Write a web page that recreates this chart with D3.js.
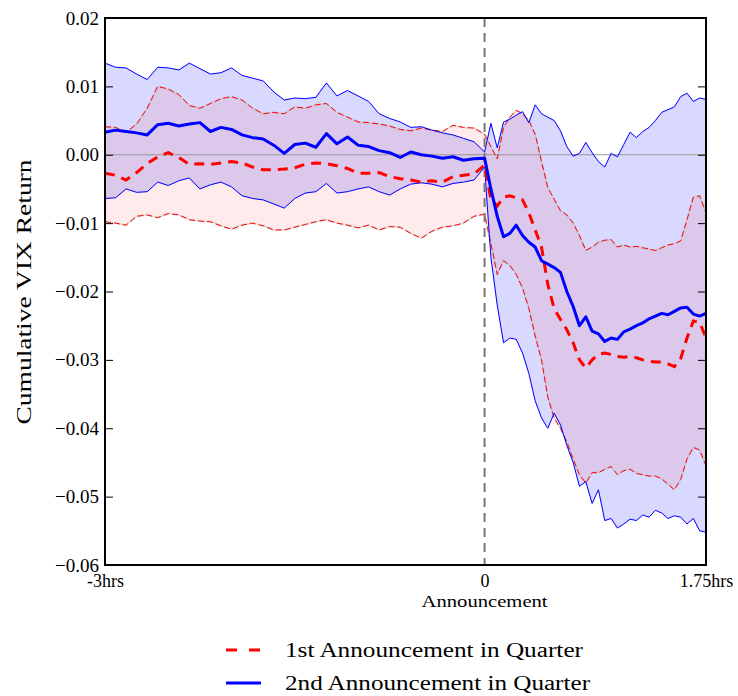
<!DOCTYPE html>
<html>
<head>
<meta charset="utf-8">
<script src="https://cdn.jsdelivr.net/npm/d3@7"></script>
<style>
  body { margin: 0; background: #fff; }
  svg text { font-family: "Liberation Serif", "DejaVu Serif", serif; fill: #000; }
</style>
</head>
<body>
<div id="chart"></div>
<script>
// minutes relative to the announcement
var minutes = [-180,-175,-170,-165,-160,-155,-150,-145,-140,-135,-130,-125,-120,-115,-110,-105,-100,-95,-90,-85,-80,-75,-70,-65,-60,-55,-50,-45,-40,-35,-30,-25,-20,-15,-10,-5,0,
  3,6,9,12,15,18,21,24,27,30,33,36,39,42,45,48,51,54,57,60,63,66,69,72,75,78,81,84,87,90,93,96,99,102,105];

// 1st announcement in quarter (red)
var redMean = [-0.0027,-0.0030,-0.0037,-0.0026,-0.0013,-0.0003,0.0003,-0.0004,-0.0014,-0.0013,-0.0014,-0.0012,-0.0010,-0.0012,-0.0018,-0.0022,-0.0022,-0.0021,-0.0019,-0.0014,-0.0012,-0.0013,-0.0016,-0.0020,-0.0027,-0.0027,-0.0026,-0.0032,-0.0035,-0.0037,-0.0040,-0.0038,-0.0040,-0.0032,-0.0030,-0.0028,-0.0015,
  -0.0065,-0.0075,-0.0062,-0.0060,-0.0063,-0.0066,-0.0085,-0.0110,-0.0135,-0.0190,-0.0225,-0.0241,-0.0256,-0.0275,-0.0300,-0.0312,-0.0300,-0.0292,-0.0290,-0.0292,-0.0295,-0.0296,-0.0295,-0.0297,-0.0300,-0.0302,-0.0303,-0.0303,-0.0306,-0.0310,-0.0298,-0.0268,-0.0243,-0.0245,-0.0268];
var redUpper = [0.0041,0.0040,0.0033,0.0045,0.0068,0.0100,0.0096,0.0088,0.0072,0.0068,0.0075,0.0082,0.0085,0.0080,0.0068,0.0060,0.0062,0.0060,0.0070,0.0068,0.0073,0.0075,0.0062,0.0055,0.0048,0.0047,0.0045,0.0042,0.0037,0.0035,0.0039,0.0036,0.0034,0.0043,0.0040,0.0039,0.0030,
  0.0012,-0.0006,0.0040,0.0055,0.0065,0.0060,0.0050,0.0030,-0.0010,-0.0048,-0.0065,-0.0082,-0.0088,-0.0100,-0.0118,-0.0140,-0.0135,-0.0128,-0.0125,-0.0124,-0.0135,-0.0132,-0.0135,-0.0134,-0.0136,-0.0138,-0.0140,-0.0136,-0.0132,-0.0130,-0.0126,-0.0095,-0.0062,-0.0060,-0.0085];
var redLower = [-0.0098,-0.0100,-0.0103,-0.0090,-0.0088,-0.0092,-0.0086,-0.0088,-0.0095,-0.0097,-0.0098,-0.0104,-0.0109,-0.0103,-0.0100,-0.0104,-0.0110,-0.0110,-0.0106,-0.0102,-0.0098,-0.0095,-0.0100,-0.0103,-0.0107,-0.0103,-0.0110,-0.0105,-0.0106,-0.0115,-0.0122,-0.0112,-0.0106,-0.0104,-0.0100,-0.0090,-0.0087,
  -0.0130,-0.0175,-0.0155,-0.0162,-0.0175,-0.0195,-0.0225,-0.0265,-0.0300,-0.0355,-0.0385,-0.0400,-0.0420,-0.0445,-0.0468,-0.0480,-0.0465,-0.0465,-0.0460,-0.0456,-0.0468,-0.0462,-0.0460,-0.0466,-0.0468,-0.0470,-0.0470,-0.0474,-0.0482,-0.0490,-0.0475,-0.0445,-0.0428,-0.0432,-0.0455];

// 2nd announcement in quarter (blue)
var blueMean = [0.0033,0.0036,0.0034,0.0032,0.0029,0.0044,0.0046,0.0042,0.0045,0.0047,0.0034,0.0040,0.0037,0.0029,0.0025,0.0023,0.0014,0.0002,0.0015,0.0017,0.0011,0.0031,0.0016,0.0026,0.0014,0.0012,0.0006,0.0003,-0.0004,0.0004,0.0000,-0.0002,-0.0005,-0.0003,-0.0008,-0.0006,-0.0005,
  -0.0050,-0.0090,-0.0120,-0.0115,-0.0103,-0.0118,-0.0128,-0.0135,-0.0155,-0.0160,-0.0165,-0.0172,-0.0200,-0.0222,-0.0250,-0.0237,-0.0258,-0.0262,-0.0273,-0.0268,-0.0270,-0.0259,-0.0255,-0.0250,-0.0246,-0.0240,-0.0236,-0.0232,-0.0234,-0.0229,-0.0224,-0.0223,-0.0233,-0.0236,-0.0232];
var blueUpper = [0.0134,0.0128,0.0127,0.0118,0.0110,0.0128,0.0127,0.0124,0.0134,0.0126,0.0118,0.0120,0.0127,0.0116,0.0112,0.0108,0.0092,0.0080,0.0083,0.0082,0.0084,0.0105,0.0086,0.0094,0.0086,0.0078,0.0060,0.0053,0.0048,0.0040,0.0041,0.0036,0.0032,0.0029,0.0024,0.0019,0.0004,
  0.0046,0.0010,0.0048,0.0052,0.0058,0.0063,0.0047,0.0073,0.0060,0.0055,0.0050,0.0035,0.0012,-0.0002,0.0002,0.0018,0.0003,-0.0010,-0.0018,0.0002,-0.0003,0.0015,0.0033,0.0025,0.0034,0.0040,0.0050,0.0062,0.0066,0.0070,0.0085,0.0090,0.0078,0.0083,0.0081];
var blueLower = [-0.0064,-0.0063,-0.0050,-0.0055,-0.0054,-0.0040,-0.0045,-0.0038,-0.0034,-0.0050,-0.0044,-0.0040,-0.0047,-0.0060,-0.0064,-0.0066,-0.0072,-0.0078,-0.0064,-0.0056,-0.0054,-0.0042,-0.0056,-0.0054,-0.0050,-0.0047,-0.0054,-0.0059,-0.0050,-0.0043,-0.0041,-0.0043,-0.0047,-0.0042,-0.0040,-0.0037,-0.0018,
  -0.0150,-0.0220,-0.0275,-0.0268,-0.0270,-0.0290,-0.0320,-0.0360,-0.0385,-0.0400,-0.0378,-0.0395,-0.0425,-0.0450,-0.0485,-0.0478,-0.0510,-0.0490,-0.0535,-0.0532,-0.0546,-0.0540,-0.0533,-0.0535,-0.0527,-0.0530,-0.0520,-0.0524,-0.0532,-0.0528,-0.0530,-0.0540,-0.0532,-0.0550,-0.0552];

var yTicks = [-0.06,-0.05,-0.04,-0.03,-0.02,-0.01,0.00,0.01,0.02];
var xTicks = [-3, 0, 1.75];
var xTickLabels = ["-3hrs", "0", "1.75hrs"];
var seriesNames = ["1st Announcement in Quarter", "2nd Announcement in Quarter"];

//Width and height
var w = 738, h = 696;
var plotL = 105, plotR = 706, plotT = 18, plotB = 565;

var svg = d3.select("#chart").append("svg")
  .attr("width", w)
  .attr("height", h);

var x = d3.scaleLinear().domain([-3, 1.75]).range([plotL, plotR]);
var y = d3.scaleLinear().domain([-0.06, 0.02]).range([plotB, plotT]);

function rows(lo, mid, hi) {
  return minutes.map(function(m, i) {
    return { t: m / 60, lo: lo[i], mid: mid[i], hi: hi[i] };
  });
}
var red = rows(redLower, redMean, redUpper);
var blue = rows(blueLower, blueMean, blueUpper);

var band = d3.area()
  .x(function(d) { return x(d.t); })
  .y0(function(d) { return y(d.lo); })
  .y1(function(d) { return y(d.hi); });
var line = function(key) {
  return d3.line()
    .x(function(d) { return x(d.t); })
    .y(function(d) { return y(d[key]); });
};

// bands
svg.append("path").datum(blue).attr("d", band)
  .attr("fill", "rgba(0,0,255,0.15)")
  .attr("stroke", "rgba(0,0,255,0.05)").attr("stroke-width", 1.5);
svg.append("path").datum(red).attr("d", band)
  .attr("fill", "rgba(255,0,0,0.08)")
  .attr("stroke", "rgba(180,180,180,0.35)").attr("stroke-width", 2);

// zero line
svg.append("line")
  .attr("x1", plotL).attr("x2", plotR)
  .attr("y1", y(0)).attr("y2", y(0))
  .attr("stroke", "#999").attr("stroke-width", 1.2);

// thin bound lines
["lo", "hi"].forEach(function(k) {
  svg.append("path").datum(red).attr("d", line(k))
    .attr("fill", "none").attr("stroke", "#ff0000").attr("stroke-width", 1)
    .attr("stroke-dasharray", "6,3");
  svg.append("path").datum(blue).attr("d", line(k))
    .attr("fill", "none").attr("stroke", "#0000ff").attr("stroke-width", 1);
});

// announcement marker
svg.append("line")
  .attr("x1", x(0)).attr("x2", x(0))
  .attr("y1", plotT).attr("y2", plotB)
  .attr("stroke", "#777").attr("stroke-width", 2)
  .attr("stroke-dasharray", "9,6");

// means
svg.append("path").datum(red).attr("d", line("mid"))
  .attr("fill", "none").attr("stroke", "#ff0000").attr("stroke-width", 3)
  .attr("stroke-dasharray", "10,7");
svg.append("path").datum(blue).attr("d", line("mid"))
  .attr("fill", "none").attr("stroke", "#0000ff").attr("stroke-width", 3)
  .attr("stroke-linejoin", "round");

// axes
var fmt = d3.format(".2f");
var yAxis = svg.append("g")
  .attr("transform", "translate(" + plotL + ",0)")
  .call(d3.axisLeft(y).tickValues(yTicks).tickSize(-8).tickPadding(6).tickFormat(fmt));
var yAxisR = svg.append("g")
  .attr("transform", "translate(" + plotR + ",0)")
  .call(d3.axisRight(y).tickValues(yTicks).tickSize(-8).tickFormat(""));
var xAxis = svg.append("g")
  .attr("transform", "translate(0," + plotB + ")")
  .call(d3.axisBottom(x).tickValues(xTicks).tickSize(0).tickPadding(9)
    .tickFormat(function(d, i) { return xTickLabels[i]; }));

[yAxis, yAxisR, xAxis].forEach(function(g) {
  g.select(".domain").remove();
  g.selectAll("line").attr("stroke", "#000").attr("stroke-width", 1);
  g.selectAll("text").style("font-size", "19px").style("font-family", "Liberation Serif, serif");
});
xAxis.selectAll("text").style("font-size", "18px");

// frame
svg.append("rect")
  .attr("x", plotL).attr("y", plotT)
  .attr("width", plotR - plotL).attr("height", plotB - plotT)
  .attr("fill", "none").attr("stroke", "#000").attr("stroke-width", 2);

// labels
svg.append("text")
  .attr("x", x(0)).attr("y", 607)
  .attr("text-anchor", "middle")
  .attr("textLength", 126).attr("lengthAdjust", "spacingAndGlyphs")
  .style("font-size", "17px")
  .text("Announcement");

svg.append("text")
  .attr("transform", "translate(31,292) rotate(-90)")
  .attr("text-anchor", "middle")
  .attr("textLength", 265).attr("lengthAdjust", "spacingAndGlyphs")
  .style("font-size", "22px")
  .text("Cumulative VIX Return");

// legend
var legend = svg.append("g");
var legendY = [650, 683];
legend.append("line")
  .attr("x1", 226).attr("x2", 261).attr("y1", legendY[0]).attr("y2", legendY[0])
  .attr("stroke", "#ff0000").attr("stroke-width", 3).attr("stroke-dasharray", "11,12");
legend.append("line")
  .attr("x1", 226).attr("x2", 261).attr("y1", legendY[1]).attr("y2", legendY[1])
  .attr("stroke", "#0000ff").attr("stroke-width", 3);
seriesNames.forEach(function(name, i) {
  legend.append("text")
    .attr("x", 285).attr("y", legendY[i] + 7)
    .attr("textLength", i === 0 ? 298 : 305).attr("lengthAdjust", "spacingAndGlyphs")
    .style("font-size", "20px")
    .text(name);
});
</script>
</body>
</html>
